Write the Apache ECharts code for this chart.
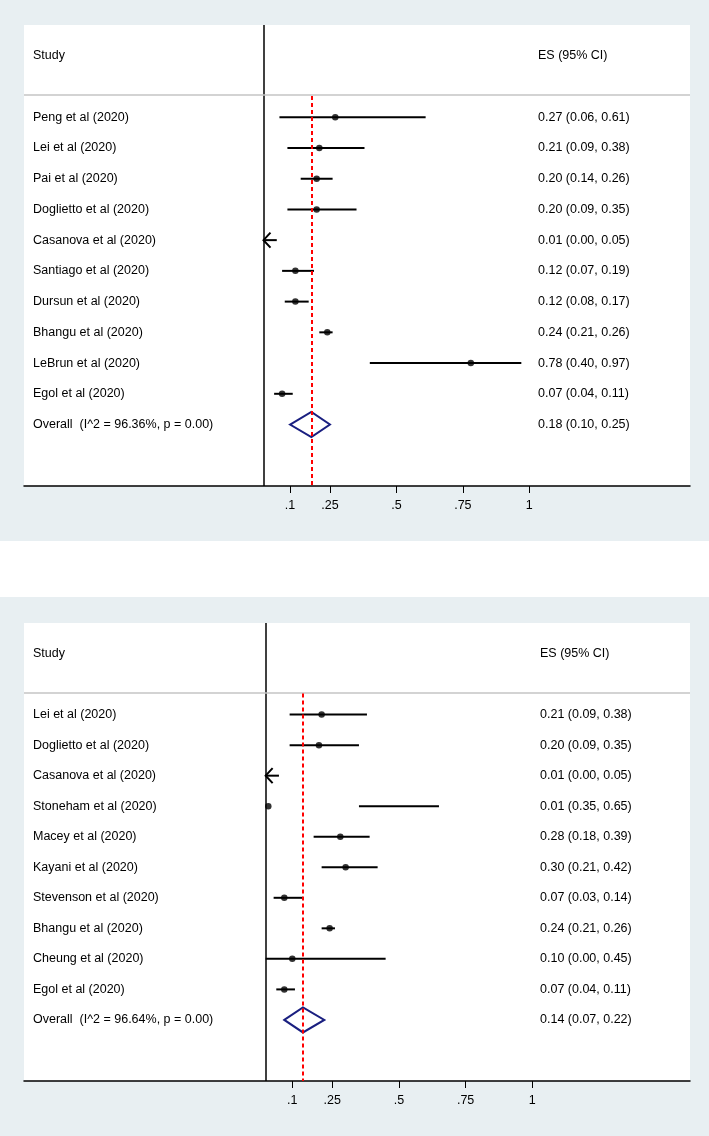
<!DOCTYPE html>
<html><head><meta charset="utf-8">
<script src="https://cdn.jsdelivr.net/npm/echarts@6/dist/echarts.min.js"></script>
<style>html,body{margin:0;padding:0;background:#fff}#c{width:709px;height:1136px}</style>
</head><body><div id="c"></div>
<script>
// ---------- Panel 1 data ----------
const studies1 = ['Peng et al (2020)', 'Lei et al (2020)', 'Pai et al (2020)', 'Doglietto et al (2020)',
  'Casanova et al (2020)', 'Santiago et al (2020)', 'Dursun et al (2020)', 'Bhangu et al (2020)',
  'LeBrun et al (2020)', 'Egol et al (2020)'];
const es1 = [0.27, 0.21, 0.20, 0.20, 0.01, 0.12, 0.12, 0.24, 0.78, 0.07];
const lo1 = [0.06, 0.09, 0.14, 0.09, 0.00, 0.07, 0.08, 0.21, 0.40, 0.04];
const hi1 = [0.61, 0.38, 0.26, 0.35, 0.05, 0.19, 0.17, 0.26, 0.97, 0.11];
const arrow1 = [false, false, false, false, true, false, false, false, false, false];
const overall1 = [0.18, 0.10, 0.25];
const overallLabel1 = 'Overall  (I^2 = 96.36%, p = 0.00)';

// ---------- Panel 2 data ----------
const studies2 = ['Lei et al (2020)', 'Doglietto et al (2020)', 'Casanova et al (2020)', 'Stoneham et al (2020)',
  'Macey et al (2020)', 'Kayani et al (2020)', 'Stevenson et al (2020)', 'Bhangu et al (2020)',
  'Cheung et al (2020)', 'Egol et al (2020)'];
const es2 = [0.21, 0.20, 0.01, 0.01, 0.28, 0.30, 0.07, 0.24, 0.10, 0.07];
const lo2 = [0.09, 0.09, 0.00, 0.35, 0.18, 0.21, 0.03, 0.21, 0.00, 0.04];
const hi2 = [0.38, 0.35, 0.05, 0.65, 0.39, 0.42, 0.14, 0.26, 0.45, 0.11];
const arrow2 = [false, false, true, false, false, false, false, false, false, false];
const overall2 = [0.14, 0.07, 0.22];
const overallLabel2 = 'Overall  (I^2 = 96.64%, p = 0.00)';

// ---------- Axis ticks / headers ----------
const tickValues = [0.1, 0.25, 0.5, 0.75, 1];
const tickLabels = ['.1', '.25', '.5', '.75', '1'];
const headerLeft = 'Study';
const headerRight = 'ES (95% CI)';

const FONT = "'Liberation Sans', Arial, Helvetica, sans-serif";
const FS = 12.5;
const fmt = v => v.toFixed(2);

function panel(i, cfg) {
  const { studies, es, lo, hi, arrow, overall, overallLabel, grid, xMin, xMax } = cfg;
  const HEADER_ROW = 1, FIRST_ROW = 3, SEP = 2.28;
  const n = studies.length;
  const leftLabels = new Array(16).fill('');
  const rightLabels = new Array(16).fill('');
  leftLabels[HEADER_ROW] = headerLeft;
  rightLabels[HEADER_ROW] = headerRight;
  studies.forEach((s, k) => {
    leftLabels[FIRST_ROW + k] = s;
    rightLabels[FIRST_ROW + k] = fmt(es[k]) + ' (' + fmt(lo[k]) + ', ' + fmt(hi[k]) + ')';
  });
  const ovRow = FIRST_ROW + n;
  leftLabels[ovRow] = overallLabel;
  rightLabels[ovRow] = fmt(overall[0]) + ' (' + fmt(overall[1]) + ', ' + fmt(overall[2]) + ')';

  const xAxis = {
    gridIndex: i, type: 'value', min: xMin, max: xMax, position: 'bottom',
    axisLine: { onZero: false, lineStyle: { color: '#000', width: 1.5 } },
    axisTick: { customValues: tickValues, length: 7, lineStyle: { color: '#000', width: 1 } },
    axisLabel: { customValues: tickValues, color: '#000', fontSize: FS, fontFamily: FONT, margin: 13,
      formatter: v => tickLabels[tickValues.indexOf(v)] ?? '' },
    splitLine: { show: false }
  };
  const yBase = { gridIndex: i, type: 'value', min: 0, max: 15, interval: 1, inverse: true,
    axisLine: { show: false }, axisTick: { show: false }, splitLine: { show: false } };
  const yLeft = Object.assign({}, yBase, { position: 'left', offset: -9,
    axisLabel: { align: 'left', margin: 0, color: '#000', fontSize: FS, fontFamily: FONT, padding: [3, 0, 0, 0],
      formatter: v => leftLabels[v] || '' } });
  const yRight = Object.assign({}, yBase, { position: 'right', offset: -cfg.rightOffset,
    axisLabel: { align: 'left', margin: 0, color: '#000', fontSize: FS, fontFamily: FONT, padding: [3, 0, 0, 0],
      formatter: v => rightLabels[v] || '' } });

  const ciData = studies.map((s, k) => [FIRST_ROW + k, lo[k], hi[k], arrow[k] ? 1 : 0]);
  const ptData = studies.map((s, k) => arrow[k] ? null : [es[k], FIRST_ROW + k]).filter(d => d);

  const series = [
    {
      type: 'custom', xAxisIndex: i, yAxisIndex: 2 * i, silent: true, z: 3,
      data: ciData,
      renderItem: (params, api) => {
        const row = api.value(0);
        const a = api.coord([api.value(1), row]);
        const b = api.coord([api.value(2), row]);
        const children = [{ type: 'line', shape: { x1: a[0], y1: a[1], x2: b[0], y2: b[1] },
          style: { stroke: '#000', lineWidth: 2 } }];
        if (api.value(3)) {
          children.push({ type: 'polyline', shape: { points: [[a[0] + 7, a[1] - 7.5], [a[0], a[1]], [a[0] + 7, a[1] + 7.5]] },
            style: { stroke: '#000', lineWidth: 2, fill: null } });
        }
        return { type: 'group', children };
      }
    },
    {
      type: 'custom', xAxisIndex: i, yAxisIndex: 2 * i, silent: true, z: 4,
      data: [[ovRow, overall[1], overall[0], overall[2]]],
      renderItem: (params, api) => {
        const row = api.value(0);
        const l = api.coord([api.value(1), row]);
        const t = api.coord([api.value(2), row - 0.41]);
        const r = api.coord([api.value(3), row]);
        const bt = api.coord([api.value(2), row + 0.41]);
        return { type: 'polygon', shape: { points: [l, t, r, bt] },
          style: { stroke: '#1a1f80', lineWidth: 2, fill: 'rgba(0,0,0,0)' } };
      }
    },
    {
      type: 'scatter', xAxisIndex: i, yAxisIndex: 2 * i, silent: true, z: 5,
      symbol: 'circle', symbolSize: 6.5, itemStyle: { color: '#000' },
      data: ptData,
      markLine: {
        silent: true, symbol: 'none', label: { show: false }, animation: false,
        data: [
          { xAxis: 0, lineStyle: { color: '#000', width: 1.5, type: 'solid' } },
          { yAxis: SEP, lineStyle: { color: '#c4c4c4', width: 1.5, type: 'solid' } },
          [{ coord: [overall[0], SEP + 0.03], lineStyle: { color: '#ff0000', width: 2, type: [4, 3] } },
           { coord: [overall[0], 15] }]
        ]
      }
    }
  ];
  return { xAxis, yAxes: [yLeft, yRight], series, grid };
}

const p1 = panel(0, { studies: studies1, es: es1, lo: lo1, hi: hi1, arrow: arrow1, overall: overall1,
  overallLabel: overallLabel1, xMin: -0.901, xMax: 1.6046, rightOffset: 152,
  grid: { left: 24, top: 25, width: 666, height: 461 } });
const p2 = panel(1, { studies: studies2, es: es2, lo: lo2, hi: hi2, arrow: arrow2, overall: overall2,
  overallLabel: overallLabel2, xMin: -0.906, xMax: 1.5913, rightOffset: 150,
  grid: { left: 24, top: 623, width: 666, height: 458 } });

const chart = echarts.init(document.getElementById('c'), null, { renderer: 'canvas' });
chart.setOption({
  animation: false,
  backgroundColor: '#e8eff2',
  textStyle: { fontFamily: FONT },
  graphic: [{ type: 'rect', left: 0, top: 541, shape: { width: 709, height: 56 }, style: { fill: '#ffffff' }, silent: true }],
  grid: [p1.grid, p2.grid].map(g => Object.assign({ show: true, backgroundColor: '#ffffff', borderWidth: 0, containLabel: false }, g)),
  xAxis: [p1.xAxis, p2.xAxis],
  yAxis: [...p1.yAxes, ...p2.yAxes],
  series: [...p1.series, ...p2.series]
});
</script>
</body></html>
